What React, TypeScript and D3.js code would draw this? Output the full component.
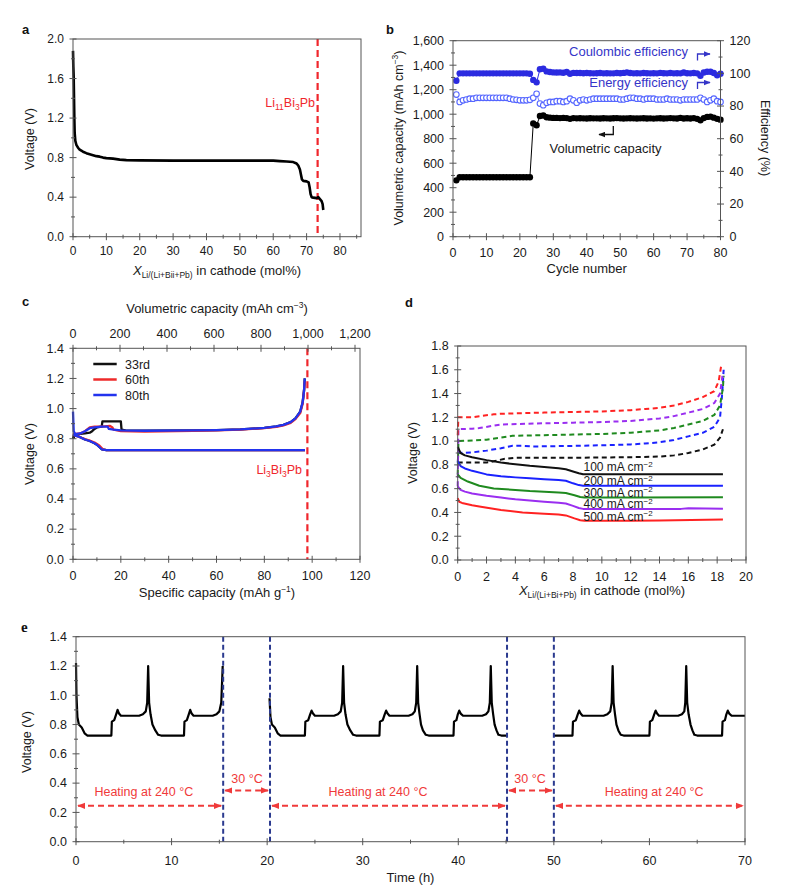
import React from "react";
import * as d3 from "d3";

const FONT = "'Liberation Sans', Arial, Helvetica, sans-serif";
const AX = "#555";
const TXT = "#1a1a1a";
const RED = "#f0262c";

type P = [number, number];

// ---------------- Panel a ----------------
const aCurve: P[] = [
  [0, 1.88], [0.1, 1.72], [0.2, 1.62], [0.3, 1.42], [0.4, 1.2], [0.5, 1.05], [0.7, 0.97], [1, 0.93],
  [1.5, 0.9], [2, 0.88], [3, 0.86], [4, 0.845], [5, 0.835], [6, 0.825], [7, 0.815], [8, 0.81],
  [9, 0.8], [10, 0.795], [12, 0.79], [14, 0.78], [16, 0.775], [20, 0.772], [30, 0.77], [40, 0.77],
  [50, 0.77], [60, 0.77], [62, 0.765], [64, 0.76], [66, 0.755], [67, 0.74], [67.5, 0.72], [68, 0.68],
  [68.3, 0.63], [68.6, 0.58], [69, 0.565], [70, 0.56], [70.6, 0.55], [70.9, 0.5], [71.2, 0.43],
  [71.5, 0.4], [72, 0.395], [73, 0.39], [73.5, 0.4], [74, 0.38], [74.5, 0.36], [74.8, 0.33], [75, 0.27],
];
const aXTicks = [0, 10, 20, 30, 40, 50, 60, 70, 80];
const aXMinor = [5, 15, 25, 35, 45, 55, 65, 75, 85];
const aYTicks = [0, 0.4, 0.8, 1.2, 1.6, 2.0];
const aYMinor = [0.2, 0.6, 1.0, 1.4, 1.8];
const aMarker = 73.3;

// ---------------- Panel b ----------------
const bCycles = d3.range(1, 81);
const bCapacity = [
  460, 485, 485, 485, 485, 485, 485, 485, 485, 485,
  485, 485, 485, 485, 485, 485, 485, 485, 485, 485,
  485, 485, 485, 925, 910, 985, 990, 975, 972, 970,
  970, 968, 970, 968, 962, 968, 966, 967, 966, 965,
  967, 966, 966, 965, 967, 966, 965, 967, 968, 966,
  965, 966, 967, 966, 965, 966, 967, 965, 966, 964,
  966, 967, 965, 966, 968, 966, 965, 970, 965, 967,
  965, 968, 962, 950, 968, 978, 980, 972, 962, 955,
];
const bCoulombic = [
  95.5, 100, 100, 100, 100, 100, 100, 100, 100, 100,
  100, 100, 100, 100, 100, 100, 100, 100, 100, 100,
  100, 100, 99.8, 96, 94.5, 102.5, 102.8, 101.2, 100.8, 100.6,
  100.5, 100.6, 100.4, 100.8, 99.8, 100.3, 100.2, 100.2, 100.1, 100.2,
  100.1, 100, 100.1, 100.2, 100, 100.1, 100, 100, 100.2, 100.1,
  100.3, 100.6, 100.2, 100, 100.1, 100, 100.2, 100.1, 100, 100.1,
  100, 100.3, 100.1, 100, 100.2, 100, 100.1, 100, 100.5, 100.1,
  100, 100.2, 100, 98.5, 100.5, 101, 101, 100.2, 98.8, 99.8,
];
const bEnergy = [
  87, 82.5, 83.5, 84, 84.5, 84.5, 85, 85, 85, 85,
  85, 85, 85, 85, 85, 85, 84.5, 84, 83.8, 83.5,
  83.5, 83.5, 83.8, 85, 87.5, 81.5, 80.5, 82, 82.5, 82.5,
  83, 83, 82.5, 83, 84.5, 83.5, 82, 83.5, 84, 83.5,
  84, 84.5, 84.5, 84.5, 84.5, 84.5, 84.5, 84.5, 84.5, 84,
  84, 84.5, 85, 85, 84.5, 84.5, 84, 84.5, 84.5, 84.5,
  84, 84, 84, 84.5, 84, 84, 84, 83.5, 84, 84,
  84, 84, 84, 85, 84, 82.5, 83.5, 84.5, 83, 82.5,
];
const bXTicks = [0, 10, 20, 30, 40, 50, 60, 70, 80];
const bXMinor = [5, 15, 25, 35, 45, 55, 65, 75];
const bYLTicks = [0, 200, 400, 600, 800, 1000, 1200, 1400, 1600];
const bYLMinor = [100, 300, 500, 700, 900, 1100, 1300, 1500];
const bYRTicks = [0, 20, 40, 60, 80, 100, 120];
const bYRMinor = [10, 30, 50, 70, 90, 110];

// ---------------- Panel c ----------------
const cDis33: P[] = [[0, 0.8], [0.5, 0.83], [3, 0.81], [5, 0.795], [7, 0.785], [9, 0.77], [10, 0.76], [11, 0.745], [12, 0.73], [14, 0.725], [30, 0.725], [60, 0.725], [97, 0.725]];
const cCh33: P[] = [[0, 0.8], [1, 0.83], [3, 0.832], [5, 0.835], [7, 0.84], [8, 0.85], [9, 0.865], [10, 0.875], [12, 0.88], [12.3, 0.915], [16, 0.915], [20, 0.915], [20.3, 0.86], [22, 0.855], [30, 0.853], [50, 0.855], [60, 0.857], [70, 0.862], [80, 0.872], [85, 0.882], [88, 0.892], [91, 0.91], [93, 0.935], [95, 0.98], [96, 1.04], [96.6, 1.12], [96.9, 1.2]];
const cDis60: P[] = [[0, 0.83], [1, 0.82], [3, 0.81], [5, 0.797], [7, 0.787], [9, 0.775], [11, 0.755], [12.5, 0.73], [14, 0.725], [30, 0.725], [60, 0.725], [97, 0.725]];
const cCh60: P[] = [[0, 0.83], [3, 0.835], [5, 0.85], [7, 0.875], [9, 0.88], [12, 0.88], [15.5, 0.885], [16.5, 0.875], [17, 0.86], [20, 0.85], [30, 0.848], [50, 0.852], [60, 0.855], [70, 0.86], [80, 0.87], [85, 0.878], [88, 0.888], [91, 0.905], [93, 0.93], [95, 0.97], [96, 1.03], [96.6, 1.12], [96.9, 1.18]];
const cDis80: P[] = [[0, 0.83], [1, 0.82], [3, 0.81], [5, 0.795], [7, 0.785], [9, 0.77], [10, 0.76], [11, 0.745], [12, 0.73], [14, 0.725], [30, 0.725], [60, 0.725], [97, 0.725]];
const cCh80: P[] = [[0, 0.98], [0.3, 0.85], [1, 0.83], [3, 0.835], [5, 0.85], [7, 0.87], [9, 0.875], [12, 0.88], [14.5, 0.88], [15, 0.865], [17, 0.86], [20, 0.855], [30, 0.853], [50, 0.855], [60, 0.857], [70, 0.862], [80, 0.872], [85, 0.882], [88, 0.892], [91, 0.91], [93, 0.935], [95, 0.98], [96, 1.04], [96.6, 1.12], [96.9, 1.2]];
const cLegend = ["33rd", "60th", "80th"];
const cColors = ["#111111", "#ee2a2a", "#2233ee"];
const cXTicks = [0, 20, 40, 60, 80, 100, 120];
const cXMinor = [10, 30, 50, 70, 90, 110];
const cTopTicks = [0, 200, 400, 600, 800, 1000, 1200];
const cTopMinor = [100, 300, 500, 700, 900, 1100];
const cYTicks = [0, 0.2, 0.4, 0.6, 0.8, 1.0, 1.2, 1.4];
const cYMinor = [0.1, 0.3, 0.5, 0.7, 0.9, 1.1, 1.3];
const cMarker = 98;

// ---------------- Panel d ----------------
const dLabels = ["100", "200", "300", "400", "500"];
const dColors = ["#111111", "#1a22ff", "#1f8a1f", "#9a2ef0", "#ff2222"];
const dDis100: P[] = [[0, 0.95], [0.2, 0.9], [0.5, 0.88], [1, 0.865], [2, 0.84], [3, 0.82], [4, 0.805], [5, 0.792], [6, 0.782], [7, 0.772], [7.5, 0.763], [8, 0.745], [8.4, 0.73], [8.7, 0.722], [10, 0.722], [14, 0.722], [18.4, 0.722]];
const dDis200: P[] = [[0, 0.83], [0.2, 0.79], [0.5, 0.77], [1, 0.75], [2, 0.72], [3, 0.705], [4, 0.695], [5, 0.687], [6, 0.68], [7, 0.672], [7.5, 0.667], [8, 0.645], [8.4, 0.63], [8.7, 0.625], [12, 0.625], [18.4, 0.625]];
const dDis300: P[] = [[0, 0.72], [0.2, 0.69], [0.7, 0.66], [1.5, 0.625], [2.5, 0.602], [4, 0.589], [5, 0.58], [6, 0.574], [7, 0.567], [7.5, 0.564], [8.1, 0.545], [8.5, 0.53], [8.8, 0.525], [12, 0.525], [18.4, 0.527]];
const dDis400: P[] = [[0, 0.62], [0.2, 0.59], [0.5, 0.575], [1, 0.56], [2, 0.54], [3, 0.525], [4, 0.51], [5, 0.5], [6, 0.49], [7, 0.482], [7.5, 0.475], [8, 0.455], [8.4, 0.437], [8.7, 0.43], [12, 0.43], [15.5, 0.43], [16, 0.435], [18.4, 0.432]];
const dDis500: P[] = [[0, 0.52], [0.1, 0.49], [0.3, 0.48], [1, 0.46], [1.5, 0.45], [3, 0.42], [4.5, 0.4], [6, 0.39], [7, 0.382], [7.5, 0.375], [8.1, 0.35], [8.5, 0.335], [8.8, 0.33], [12, 0.33], [14, 0.332], [18.4, 0.34]];
const dCh100: P[] = [[0, 0.82], [1, 0.82], [2, 0.82], [2.5, 0.83], [3.2, 0.85], [4, 0.86], [6, 0.86], [8, 0.86], [10, 0.862], [12, 0.865], [14, 0.87], [15, 0.88], [16, 0.9], [17, 0.93], [17.8, 0.97], [18.2, 1.03], [18.4, 1.1]];
const dCh200: P[] = [[0, 0.82], [0.05, 0.9], [1, 0.905], [2, 0.92], [3, 0.94], [3.8, 0.96], [4.5, 0.96], [5.2, 0.955], [6, 0.956], [8, 0.96], [10, 0.965], [12, 0.972], [13, 0.98], [14, 0.99], [15, 1.01], [16, 1.04], [17, 1.07], [17.8, 1.12], [18.2, 1.2], [18.35, 1.4], [18.45, 1.6]];
const dCh300: P[] = [[0, 0.72], [0.05, 1.0], [1, 1.005], [2, 1.012], [3, 1.03], [3.8, 1.045], [6, 1.05], [8, 1.055], [10, 1.06], [12, 1.07], [13, 1.08], [14, 1.09], [15, 1.11], [16, 1.14], [17, 1.17], [17.8, 1.22], [18.2, 1.3], [18.4, 1.45], [18.45, 1.55]];
const dCh400: P[] = [[0, 0.62], [0.05, 1.1], [1, 1.105], [1.5, 1.11], [2.5, 1.13], [3, 1.14], [6, 1.15], [8, 1.155], [10, 1.16], [12, 1.17], [13, 1.18], [14, 1.19], [15, 1.21], [16, 1.24], [17, 1.27], [17.8, 1.32], [18.2, 1.4], [18.4, 1.58]];
const dCh500: P[] = [[0, 1.05], [0.05, 1.2], [1, 1.2], [1.5, 1.21], [2.5, 1.225], [3, 1.23], [6, 1.24], [8, 1.245], [10, 1.25], [12, 1.26], [13, 1.27], [14, 1.28], [15, 1.3], [16, 1.33], [17, 1.37], [17.8, 1.42], [18.1, 1.5], [18.3, 1.65]];
const dDischarge = [dDis100, dDis200, dDis300, dDis400, dDis500];
const dCharge = [dCh100, dCh200, dCh300, dCh400, dCh500];
const dXTicks = [0, 2, 4, 6, 8, 10, 12, 14, 16, 18, 20];
const dXMinor = [1, 3, 5, 7, 9, 11, 13, 15, 17, 19];
const dYTicks = [0, 0.2, 0.4, 0.6, 0.8, 1.0, 1.2, 1.4, 1.6, 1.8];
const dYMinor = [0.1, 0.3, 0.5, 0.7, 0.9, 1.1, 1.3, 1.5, 1.7];

// ---------------- Panel e ----------------
const eSeg1: P[] = [
  [0, 1.22], [0.05, 1.0], [0.15, 0.85], [0.3, 0.8], [0.6, 0.78], [0.9, 0.74], [1.2, 0.725], [3.7, 0.725],
  [3.75, 0.82], [4.0, 0.83], [4.2, 0.87], [4.35, 0.9], [4.5, 0.875], [4.7, 0.86], [6.6, 0.86], [7.0, 0.87],
  [7.3, 0.89], [7.45, 0.95], [7.55, 1.2], [7.65, 0.95], [7.8, 0.87], [8.0, 0.8], [8.3, 0.76], [8.6, 0.73],
  [8.9, 0.725], [11.3, 0.725], [11.35, 0.82], [11.6, 0.83], [11.8, 0.87], [11.95, 0.9], [12.1, 0.875],
  [12.3, 0.86], [14.3, 0.86], [14.7, 0.87], [15.0, 0.89], [15.2, 0.95], [15.35, 1.2],
];
const eSeg2: P[] = [
  [20.25, 0.98], [20.35, 0.85], [20.5, 0.8], [20.8, 0.78], [21.1, 0.74], [21.4, 0.725], [23.95, 0.725],
  [24.0, 0.82], [24.3, 0.83], [24.5, 0.87], [24.65, 0.895], [24.8, 0.875], [25.0, 0.86], [27.0, 0.86],
  [27.4, 0.87], [27.7, 0.89], [27.85, 0.95], [27.95, 1.2], [28.05, 0.95], [28.2, 0.87], [28.4, 0.8],
  [28.7, 0.76], [29.0, 0.73], [29.3, 0.725], [31.75, 0.725], [31.8, 0.82], [32.1, 0.83], [32.3, 0.87],
  [32.45, 0.895], [32.6, 0.875], [32.8, 0.86], [34.8, 0.86], [35.2, 0.87], [35.45, 0.89], [35.6, 0.95],
  [35.7, 1.2], [35.8, 0.95], [35.95, 0.87], [36.1, 0.8], [36.3, 0.76], [36.6, 0.73], [36.9, 0.725],
  [39.5, 0.725], [39.55, 0.82], [39.8, 0.83], [39.95, 0.87], [40.1, 0.895], [40.25, 0.875], [40.5, 0.86],
  [42.5, 0.86], [42.9, 0.87], [43.15, 0.89], [43.3, 0.95], [43.4, 1.2], [43.5, 0.95], [43.65, 0.87],
  [43.8, 0.8], [44.0, 0.76], [44.2, 0.73], [44.5, 0.725], [45.0, 0.725],
];
const eSeg3: P[] = [
  [50.0, 0.725], [51.95, 0.725], [52.0, 0.82], [52.3, 0.83], [52.5, 0.87], [52.65, 0.895], [52.8, 0.875],
  [53.0, 0.86], [55.2, 0.86], [55.6, 0.87], [55.9, 0.89], [56.05, 0.95], [56.15, 1.2], [56.25, 0.95],
  [56.4, 0.87], [56.55, 0.8], [56.75, 0.76], [57.0, 0.73], [57.3, 0.725], [60.0, 0.725], [60.05, 0.82],
  [60.3, 0.83], [60.5, 0.87], [60.65, 0.895], [60.8, 0.875], [61.0, 0.86], [63.0, 0.86], [63.4, 0.87],
  [63.65, 0.89], [63.75, 0.95], [63.85, 1.2], [63.95, 0.95], [64.1, 0.87], [64.3, 0.8], [64.5, 0.76],
  [64.7, 0.73], [65.0, 0.725], [67.6, 0.725], [67.65, 0.82], [67.9, 0.83], [68.05, 0.87], [68.2, 0.895],
  [68.35, 0.875], [68.6, 0.86], [70, 0.86],
];
const eBoundaries = [15.4, 20.3, 45.1, 50];
const eHeatSpans: P[] = [[0, 15.4], [20.3, 45.1], [50, 70]];
const eHeatLabelAt = [7.1, 31.6, 60.5];
const eCoolSpans: P[] = [[15.4, 20.3], [45.1, 50]];
const eCoolLabelAt = [17.9, 47.5];
const eHeatV = 0.245;
const eCoolV = 0.35;
const eXTicks = [0, 10, 20, 30, 40, 50, 60, 70];
const eXMinor = [5, 15, 25, 35, 45, 55, 65];
const eYTicks = [0, 0.2, 0.4, 0.6, 0.8, 1.0, 1.2, 1.4];
const eYMinor = [0.1, 0.3, 0.5, 0.7, 0.9, 1.1, 1.3];

// ---------------- helpers ----------------
type Scale = (v: number) => number;

function Ticks({ scale, at, vals, minor = [], fmt = (v: number) => String(v), orient, off = 18.5, fs = 12, labels = true }: {
  scale: Scale; at: number; vals: number[]; minor?: number[]; fmt?: (v: number) => string;
  orient: "bottom" | "top" | "left" | "right"; off?: number; fs?: number; labels?: boolean;
}) {
  const horiz = orient === "bottom" || orient === "top";
  const M = 3.5, m = 2;
  return (
    <g>
      <g stroke={AX} strokeWidth={1}>
        {minor.map((v, i) => horiz
          ? <line key={"m" + i} x1={scale(v)} x2={scale(v)} y1={at - m} y2={at + m} />
          : <line key={"m" + i} y1={scale(v)} y2={scale(v)} x1={at - m} x2={at + m} />)}
        {vals.map((v, i) => horiz
          ? <line key={"M" + i} x1={scale(v)} x2={scale(v)} y1={at - M} y2={at + M} />
          : <line key={"M" + i} y1={scale(v)} y2={scale(v)} x1={at - M} x2={at + M} />)}
      </g>
      {labels && vals.map((v, i) => {
        const p = scale(v);
        if (orient === "bottom") return <text key={"t" + i} x={p} y={at + off} textAnchor="middle" fontSize={fs} fill={TXT}>{fmt(v)}</text>;
        if (orient === "top") return <text key={"t" + i} x={p} y={at - 10} textAnchor="middle" fontSize={fs} fill={TXT}>{fmt(v)}</text>;
        if (orient === "left") return <text key={"t" + i} x={at - 9} y={p + 4.3} textAnchor="end" fontSize={fs} fill={TXT}>{fmt(v)}</text>;
        return <text key={"t" + i} x={at + 9} y={p + 4.3} textAnchor="start" fontSize={fs} fill={TXT}>{fmt(v)}</text>;
      })}
    </g>
  );
}

function Frame({ x0, x1, y0, y1 }: { x0: number; x1: number; y0: number; y1: number }) {
  return <rect x={x0} y={y0} width={x1 - x0} height={y1 - y0} fill="none" stroke={AX} strokeWidth={1} />;
}

function RotTitle({ x, y, rot = -90, fs = 12.5, children }: { x: number; y: number; rot?: number; fs?: number; children: React.ReactNode }) {
  return <text transform={`translate(${x},${y}) rotate(${rot})`} textAnchor="middle" fontSize={fs} fill={TXT}>{children}</text>;
}

function Letter({ x, y, t, serif = false }: { x: number; y: number; t: string; serif?: boolean }) {
  return <text x={x} y={y} fontSize={serif ? 15 : 13} fontWeight="bold" fill="#111"
    fontFamily={serif ? "'Liberation Serif', 'DejaVu Serif', serif" : FONT}>{t}</text>;
}

const f1 = d3.format(".1f");
const fc = d3.format(",");
const fd = d3.format("d");

// ---------------- panels ----------------
function PanelA() {
  const x = d3.scaleLinear().domain([0, 86.3]).range([73, 361]);
  const y = d3.scaleLinear().domain([0, 2]).range([236.7, 39]);
  const line = d3.line<P>().x(d => x(d[0])).y(d => y(d[1]));
  return (
    <g>
      <Letter x={22} y={34} t="a" />
      <line x1={x(aMarker)} x2={x(aMarker)} y1={y(2)} y2={y(0)} stroke={RED} strokeWidth={2.2} strokeDasharray="7,4" />
      <path d={line(aCurve) || ""} fill="none" stroke="#000" strokeWidth={2.6} strokeLinejoin="round" />
      <Frame x0={73} x1={361} y0={39} y1={236.7} />
      <Ticks scale={x} at={236.7} orient="bottom" vals={aXTicks} minor={aXMinor} fmt={fd} off={18.5} />
      <Ticks scale={y} at={73} orient="left" vals={aYTicks} minor={aYMinor} fmt={f1} />
      <text x={315} y={107} textAnchor="end" fill={RED} fontSize={12.5}>Li<tspan dy={3} fontSize={8.5}>11</tspan><tspan dy={-3}>Bi</tspan><tspan dy={3} fontSize={8.5}>3</tspan><tspan dy={-3}>Pb</tspan></text>
      <RotTitle x={34} y={139}>Voltage (V)</RotTitle>
      <text x={217} y={275} textAnchor="middle" fontSize={13} fill={TXT}><tspan fontStyle="italic">X</tspan><tspan dy={3} fontSize={8.5}>Li/(Li+Bii+Pb)</tspan><tspan dy={-3}> in cathode (mol%)</tspan></text>
    </g>
  );
}

function PanelB() {
  const x = d3.scaleLinear().domain([0, 80]).range([453, 720.5]);
  const yL = d3.scaleLinear().domain([0, 1600]).range([236.7, 40.7]);
  const yR = d3.scaleLinear().domain([0, 120]).range([236.7, 40.7]);
  const capPts: P[] = bCycles.map((c, i) => [x(c), yL(bCapacity[i])]);
  const cePts: P[] = bCycles.map((c, i) => [x(c), yR(bCoulombic[i])]);
  const eePts: P[] = bCycles.map((c, i) => [x(c), yR(bEnergy[i])]);
  const line = d3.line<P>();
  const CE = "#2b2be0";
  const EE = "#5566ff";
  const TB = "#3535c8";
  return (
    <g>
      <Letter x={386} y={34} t="b" />
      <path d={line(eePts) || ""} fill="none" stroke={EE} strokeWidth={0.8} />
      {eePts.map((p, i) => <circle key={"e" + i} cx={p[0]} cy={p[1]} r={2.8} fill="#fff" stroke={EE} strokeWidth={1.1} />)}
      <path d={line(cePts) || ""} fill="none" stroke={CE} strokeWidth={1} />
      {cePts.map((p, i) => <circle key={"c" + i} cx={p[0]} cy={p[1]} r={3.2} fill={CE} />)}
      <path d={line(capPts) || ""} fill="none" stroke="#000" strokeWidth={1} />
      {capPts.map((p, i) => <circle key={"k" + i} cx={p[0]} cy={p[1]} r={3.2} fill="#000" />)}
      <Frame x0={453} x1={720.5} y0={40.7} y1={236.7} />
      <Ticks scale={x} at={236.7} orient="bottom" vals={bXTicks} minor={bXMinor} fmt={fd} off={20.5} fs={12.5} />
      <Ticks scale={yL} at={453} orient="left" vals={bYLTicks} minor={bYLMinor} fmt={fc} fs={12.5} />
      <Ticks scale={yR} at={720.5} orient="right" vals={bYRTicks} minor={bYRMinor} fmt={fd} fs={12.5} />
      <text x={688} y={56} textAnchor="end" fontSize={13} fill={TB}>Coulombic efficiency</text>
      <path d="M697.5,60.5 V54 H710" fill="none" stroke={TB} strokeWidth={1.3} markerEnd="url(#arrB)" />
      <text x={688} y={87} textAnchor="end" fontSize={13} fill={TB}>Energy efficiency</text>
      <path d="M697.5,89 V82.5 H710" fill="none" stroke={TB} strokeWidth={1.3} markerEnd="url(#arrB)" />
      <path d="M613.3,126 V134.5 H599" fill="none" stroke="#111" strokeWidth={1.3} markerEnd="url(#arrK)" />
      <text x={605.5} y={153} textAnchor="middle" fontSize={13} fill={TXT}>Volumetric capacity</text>
      <RotTitle x={403} y={138}>Volumetric capacity (mAh cm<tspan dy={-5} fontSize={8.5}>−3</tspan><tspan dy={5}>)</tspan></RotTitle>
      <RotTitle x={761} y={138} rot={90}>Efficiency (%)</RotTitle>
      <text x={586.7} y={273} textAnchor="middle" fontSize={13} fill={TXT}>Cycle number</text>
    </g>
  );
}

function PanelC() {
  const x = d3.scaleLinear().domain([0, 120]).range([73, 360]);
  const xt = d3.scaleLinear().domain([0, 1200]).range([73, 355]);
  const y = d3.scaleLinear().domain([0, 1.4]).range([559.3, 348.3]);
  const line = d3.line<P>().x(d => x(d[0])).y(d => y(d[1]));
  const curves: P[][][] = [[cDis33, cCh33], [cDis60, cCh60], [cDis80, cCh80]];
  return (
    <g>
      <Letter x={22} y={306} t="c" />
      <line x1={x(cMarker)} x2={x(cMarker)} y1={y(1.4)} y2={y(0)} stroke={RED} strokeWidth={2.2} strokeDasharray="7,4" />
      {curves.map((pair, k) => pair.map((c, j) => (
        <path key={k + "-" + j} d={line(c) || ""} fill="none" stroke={cColors[k]} strokeWidth={2.3} strokeLinejoin="round" />
      )))}
      <Frame x0={73} x1={360} y0={348.3} y1={559.3} />
      <Ticks scale={x} at={559.3} orient="bottom" vals={cXTicks} minor={cXMinor} fmt={fd} off={20.5} fs={12.5} />
      <Ticks scale={xt} at={348.3} orient="top" vals={cTopTicks} minor={cTopMinor} fmt={fc} fs={12.5} />
      <Ticks scale={y} at={73} orient="left" vals={cYTicks} minor={cYMinor} fmt={f1} fs={12.5} />
      {cLegend.map((s, i) => (
        <g key={s}>
          <line x1={93.3} x2={116.7} y1={364 + i * 15.5} y2={364 + i * 15.5} stroke={cColors[i]} strokeWidth={2.5} />
          <text x={125} y={368.5 + i * 15.5} fontSize={12.5} fill={TXT}>{s}</text>
        </g>
      ))}
      <text x={302} y={474} textAnchor="end" fill={RED} fontSize={12.5}>Li<tspan dy={3} fontSize={8.5}>3</tspan><tspan dy={-3}>Bi</tspan><tspan dy={3} fontSize={8.5}>3</tspan><tspan dy={-3}>Pb</tspan></text>
      <RotTitle x={34} y={454}>Voltage (V)</RotTitle>
      <text x={217} y={313} textAnchor="middle" fontSize={13} fill={TXT}>Volumetric capacity (mAh cm<tspan dy={-5} fontSize={8.5}>−3</tspan><tspan dy={5}>)</tspan></text>
      <text x={217} y={597} textAnchor="middle" fontSize={13} fill={TXT}>Specific capacity (mAh g<tspan dy={-5} fontSize={8.5}>−1</tspan><tspan dy={5}>)</tspan></text>
    </g>
  );
}

function PanelD() {
  const x = d3.scaleLinear().domain([0, 20]).range([457.7, 746]);
  const y = d3.scaleLinear().domain([0, 1.8]).range([560, 346]);
  const line = d3.line<P>().x(d => x(d[0])).y(d => y(d[1]));
  const labelY = [471, 485, 496.5, 508, 520.5];
  return (
    <g>
      <Letter x={405} y={307} t="d" />
      {dCharge.map((c, i) => (
        <path key={"ch" + i} d={line(c) || ""} fill="none" stroke={dColors[i]} strokeWidth={2} strokeDasharray="5,3.5" />
      ))}
      {dDischarge.map((c, i) => (
        <path key={"dis" + i} d={line(c) || ""} fill="none" stroke={dColors[i]} strokeWidth={2} strokeLinejoin="round" />
      ))}
      <Frame x0={457.7} x1={746} y0={346} y1={560} />
      <Ticks scale={x} at={560} orient="bottom" vals={dXTicks} minor={dXMinor} fmt={fd} off={20.5} fs={12.5} />
      <Ticks scale={y} at={457.7} orient="left" vals={dYTicks} minor={dYMinor} fmt={f1} fs={12.5} />
      {dLabels.map((s, i) => (
        <text key={s} x={583.5} y={labelY[i]} fontSize={12} fill={TXT}>{s} mA cm<tspan dy={-4.5} fontSize={8}>−2</tspan></text>
      ))}
      <RotTitle x={417} y={453}>Voltage (V)</RotTitle>
      <text x={602} y={595} textAnchor="middle" fontSize={13} fill={TXT}><tspan fontStyle="italic">X</tspan><tspan dy={3} fontSize={8.5}>Li/(Li+Bi+Pb)</tspan><tspan dy={-3}> in cathode (mol%)</tspan></text>
    </g>
  );
}

function PanelE() {
  const x = d3.scaleLinear().domain([0, 70]).range([76, 745]);
  const y = d3.scaleLinear().domain([0, 1.4]).range([841.7, 636.7]);
  const line = d3.line<P>().x(d => x(d[0])).y(d => y(d[1]));
  const ER = "#f03a3a";
  return (
    <g>
      <Letter x={21} y={632} t="e" serif />
      {[eSeg1, eSeg2, eSeg3].map((s, i) => (
        <path key={"s" + i} d={line(s) || ""} fill="none" stroke="#000" strokeWidth={2.2} strokeLinejoin="round" />
      ))}
      {eBoundaries.map((t, i) => (
        <line key={"b" + i} x1={x(t)} x2={x(t)} y1={y(1.4)} y2={y(0)} stroke="#2b3a8f" strokeWidth={2} strokeDasharray="5,3" />
      ))}
      {eHeatSpans.map((s, i) => (
        <g key={"h" + i}>
          <line x1={x(s[0]) + 2} x2={x(s[1]) - 2} y1={y(eHeatV)} y2={y(eHeatV)} stroke={ER} strokeWidth={2} strokeDasharray="6,4"
            markerStart="url(#arrR)" markerEnd="url(#arrR)" />
          <text x={x(eHeatLabelAt[i])} y={y(0.312)} textAnchor="middle" fontSize={12.5} fill={ER}>Heating at 240 °C</text>
        </g>
      ))}
      {eCoolSpans.map((s, i) => (
        <g key={"c" + i}>
          <line x1={x(s[0]) + 2} x2={x(s[1]) - 2} y1={y(eCoolV)} y2={y(eCoolV)} stroke={ER} strokeWidth={2} strokeDasharray="6,4"
            markerStart="url(#arrR)" markerEnd="url(#arrR)" />
          <text x={x(eCoolLabelAt[i])} y={y(0.4)} textAnchor="middle" fontSize={12.5} fill={ER}>30 °C</text>
        </g>
      ))}
      <Frame x0={76} x1={745} y0={636.7} y1={841.7} />
      <Ticks scale={x} at={841.7} orient="bottom" vals={eXTicks} minor={eXMinor} fmt={fd} off={23} fs={12.5} />
      <Ticks scale={y} at={76} orient="left" vals={eYTicks} minor={eYMinor} fmt={f1} fs={12.5} />
      <RotTitle x={31} y={742}>Voltage (V)</RotTitle>
      <text x={410.5} y={882} textAnchor="middle" fontSize={13} fill={TXT}>Time (h)</text>
    </g>
  );
}

export default function App() {
  return (
    <svg width={794} height={895} viewBox="0 0 794 895"
      style={{ position: "absolute", left: 0, top: 0, background: "#fff" }} fontFamily={FONT}>
      <defs>
        <marker id="arrR" viewBox="0 0 10 8" refX={9} refY={4} markerWidth={8} markerHeight={7}
          markerUnits="userSpaceOnUse" orient="auto-start-reverse">
          <path d="M0,0 L10,4 L0,8 z" fill="#f03a3a" />
        </marker>
        <marker id="arrB" viewBox="0 0 10 8" refX={9} refY={4} markerWidth={7} markerHeight={6}
          markerUnits="userSpaceOnUse" orient="auto">
          <path d="M0,0 L10,4 L0,8 z" fill="#3535c8" />
        </marker>
        <marker id="arrK" viewBox="0 0 10 8" refX={9} refY={4} markerWidth={7} markerHeight={6}
          markerUnits="userSpaceOnUse" orient="auto">
          <path d="M0,0 L10,4 L0,8 z" fill="#111" />
        </marker>
      </defs>
      <rect x={0} y={0} width={794} height={895} fill="#fff" />
      <PanelA />
      <PanelB />
      <PanelC />
      <PanelD />
      <PanelE />
    </svg>
  );
}
